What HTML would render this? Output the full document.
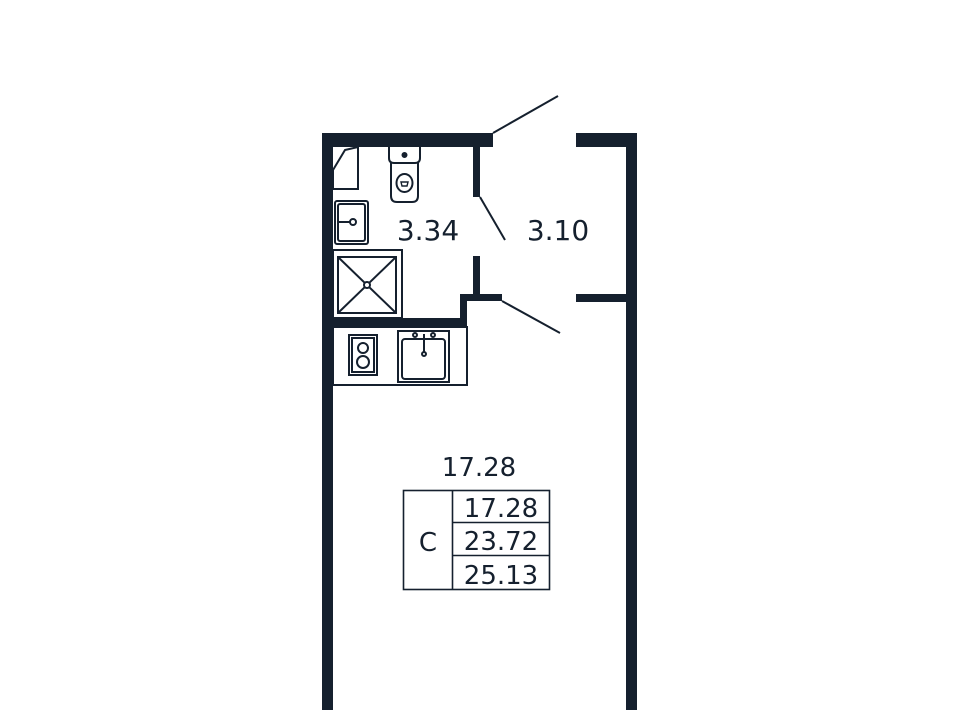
<!DOCTYPE html>
<html><head><meta charset="utf-8"><style>
html,body{margin:0;padding:0;background:#fff;width:960px;height:710px;overflow:hidden}
svg{display:block}
text{font-family:"DejaVu Sans","Liberation Sans",sans-serif;fill:#15202e}
</style></head><body>
<svg width="960" height="710" viewBox="0 0 960 710" xmlns="http://www.w3.org/2000/svg">
<g fill="#15202e">
<rect x="322" y="133" width="171" height="14"/>
<rect x="322" y="133" width="11" height="577"/>
<rect x="576" y="133" width="61" height="14"/>
<rect x="626" y="133" width="11" height="577"/>
<rect x="576" y="294" width="55" height="8"/>
<rect x="473" y="147" width="7" height="50"/>
<rect x="473" y="256" width="7" height="45"/>
<rect x="460" y="294" width="42" height="7"/>
<rect x="460" y="294" width="7" height="33"/>
<rect x="322" y="318" width="145" height="9"/>
</g>
<g stroke="#15202e" fill="none" stroke-width="2">
<line x1="493" y1="133" x2="558" y2="96"/>
<line x1="480" y1="197" x2="505" y2="240"/>
<line x1="502" y1="301" x2="560" y2="333"/>
<polygon points="345,150 358,147 358,189 333,189 333,170"/>
<path d="M389,147 V158 Q389,163 394,163 H415 Q420,163 420,158 V147"/>
<path d="M391,163 V196 Q391,202 397,202 H412 Q418,202 418,196 V163"/>
<ellipse cx="404.5" cy="183" rx="8" ry="9"/>
<path d="M401,182 h7 l-1,4 h-5 z" stroke-width="1.4"/>
<circle cx="404.5" cy="155" r="2" fill="#15202e"/>
<rect x="335" y="201" width="33" height="43" rx="2"/>
<rect x="338" y="204" width="27" height="37" rx="2"/>
<line x1="338" y1="222" x2="350" y2="222"/>
<circle cx="353" cy="222" r="3"/>
<rect x="333" y="250" width="69" height="68"/>
<rect x="338" y="257" width="58" height="56"/>
<line x1="338" y1="257" x2="396" y2="313"/>
<line x1="396" y1="257" x2="338" y2="313"/>
<circle cx="367" cy="285" r="3" fill="#fff"/>
<rect x="333" y="327" width="134" height="58"/>
<rect x="349" y="335" width="28" height="40"/>
<rect x="352" y="338" width="22" height="34"/>
<circle cx="363" cy="348" r="5"/>
<circle cx="363" cy="362" r="6"/>
<rect x="398" y="331" width="51" height="51"/>
<rect x="402" y="339" width="43" height="40" rx="3"/>
<line x1="424" y1="334" x2="424" y2="352"/>
<circle cx="424" cy="354" r="2"/>
<circle cx="415" cy="335" r="2"/>
<circle cx="433" cy="335" r="2"/>
<rect x="403.5" y="490.5" width="146" height="99" stroke-width="1.6"/>
<line x1="452.5" y1="490" x2="452.5" y2="590" stroke-width="1.6"/>
<line x1="452" y1="522.5" x2="550" y2="522.5" stroke-width="1.6"/>
<line x1="452" y1="555.5" x2="550" y2="555.5" stroke-width="1.6"/>
</g>
<text x="428" y="240" font-size="28" text-anchor="middle">3.34</text>
<text x="558" y="240" font-size="28" text-anchor="middle">3.10</text>
<text x="479" y="476" font-size="26" text-anchor="middle">17.28</text>
<text x="428" y="551" font-size="26" text-anchor="middle">C</text>
<text x="501" y="517" font-size="26" text-anchor="middle">17.28</text>
<text x="501" y="550" font-size="26" text-anchor="middle">23.72</text>
<text x="501" y="584" font-size="26" text-anchor="middle">25.13</text>
</svg>
</body></html>
